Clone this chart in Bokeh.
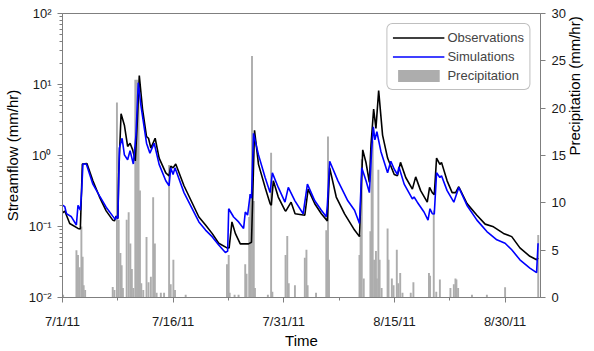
import math
from bokeh.plotting import figure
from bokeh.models import Range1d, LinearAxis, LinearScale, FixedTicker, Legend, LegendItem
from bokeh.embed import file_html
from bokeh.resources import INLINE

# Days since 7/1/2011
obs_day = [0.00, 0.31, 0.98, 2.10, 2.42, 2.69, 3.31, 4.12, 5.02, 5.92, 6.81, 7.04, 7.27, 7.51, 7.62, 7.94,
           8.39, 8.83, 9.16, 9.51, 9.87, 10.14, 10.41, 10.85, 11.39, 11.66, 11.98, 12.56, 13.10, 14.00,
           14.45, 14.67, 14.99, 15.35, 16.47, 18.49, 19.39, 20.28, 21.18, 22.30, 22.59, 22.97, 23.43,
           24.10, 25.22, 25.62, 26.03, 26.57, 27.47, 28.14, 28.31, 28.58, 29.25, 30.16, 30.27, 30.99,
           31.53, 32.85, 33.30, 34.20, 35.09, 35.90, 36.22, 37.11, 38.24, 39.59, 40.26, 40.70, 41.15,
           41.60, 41.82, 42.18, 42.49, 42.86, 43.39, 44.07, 44.97, 45.41, 45.82, 46.53, 47.43, 47.88,
           48.55, 49.45, 49.76, 50.13, 50.40, 50.71, 51.16, 51.38, 52.14, 52.82, 53.29, 53.72, 54.84,
           56.18, 57.30, 58.43, 59.78, 60.90, 62.01, 63.36, 64.27, 64.47]
obs_q = [0.155, 0.165, 0.110, 0.094, 0.092, 0.76, 0.77, 0.44, 0.26, 0.166, 0.123, 0.12, 0.14, 0.13, 0.54, 3.87,
         2.67, 1.34, 1.49, 1.20, 0.84, 3.0, 13.4, 4.5, 1.85, 1.75, 1.27, 1.75, 0.92, 0.57,
         0.515, 0.71, 0.67, 0.76, 0.375, 0.136, 0.105, 0.080, 0.058, 0.050, 0.050, 0.116, 0.080,
         0.057, 0.057, 0.060, 2.27, 0.75, 0.355, 0.21, 0.20, 0.44, 0.26, 0.169, 0.165, 0.22,
         0.151, 0.144, 0.336, 0.209, 0.151, 0.12, 0.67, 0.26, 0.151, 0.089, 0.072, 1.2, 0.79,
         0.42, 1.41, 4.5, 2.4, 8.2, 1.94, 0.92, 0.54, 0.52, 0.80, 0.49, 0.336, 0.50,
         0.32, 0.22, 0.355, 0.30, 0.28, 0.92, 0.75, 0.80, 0.44, 0.30, 0.30, 0.363, 0.21,
         0.144, 0.108, 0.099, 0.080, 0.072, 0.050, 0.038, 0.034, 0.036]

sim_day = [0.00, 0.31, 0.54, 1.21, 1.88, 2.10, 2.42, 2.60, 2.77, 3.23, 4.12, 5.02, 5.92, 6.81, 7.17, 7.31, 7.51,
           7.71, 8.08, 8.39, 8.83, 9.16, 9.60, 9.96, 10.27, 10.64, 11.39, 11.85, 12.43, 13.10, 14.00, 14.45,
           14.67, 14.99, 15.25, 16.47, 18.49, 19.39, 20.28, 21.18, 22.08, 22.39, 22.53, 23.20, 23.87, 24.55,
           24.78, 25.09, 25.45, 25.62, 25.89, 26.57, 27.47, 28.14, 28.45, 29.25, 30.16, 30.61, 31.51, 32.62,
           33.20, 34.20, 35.09, 35.76, 35.90, 36.22, 37.34, 38.68, 39.59, 40.26, 40.57, 41.15, 41.60, 41.91,
           42.14, 42.35, 42.62, 43.16, 44.07, 44.51, 44.97, 45.41, 45.61, 46.32, 47.43, 47.66, 48.10, 49.01,
           49.55, 49.82, 50.13, 50.40, 50.71, 51.16, 51.38, 52.14, 53.05, 53.72, 54.84, 56.18, 57.53, 58.88,
           60.00, 60.90, 62.01, 63.36, 64.27, 64.47]
sim_q = [0.20, 0.19, 0.152, 0.137, 0.105, 0.198, 0.17, 0.32, 0.76, 0.76, 0.395, 0.27, 0.187, 0.14, 0.125, 0.14, 0.13,
         1.27, 1.75, 1.02, 0.87, 1.17, 0.76, 1.94, 10.6, 5.0, 1.49, 1.08, 1.49, 0.75, 0.44, 0.375,
         0.67, 0.54, 0.67, 0.30, 0.116, 0.089, 0.072, 0.055, 0.043, 0.045, 0.178, 0.136, 0.116, 0.094,
         0.16, 0.145, 0.287, 0.25, 2.05, 1.02, 0.49, 0.30, 0.57, 0.355, 0.22, 0.355, 0.23, 0.151,
         0.395, 0.23, 0.169, 0.137, 0.198, 0.83, 0.44, 0.23, 0.169, 0.110, 0.67, 0.44, 0.30, 1.2,
         2.53, 1.66, 2.16, 1.14, 0.57, 0.83, 0.64, 0.54, 0.69, 0.395, 0.245, 0.26, 0.22, 0.16,
         0.123, 0.178, 0.151, 0.15, 0.57, 0.49, 0.52, 0.32, 0.22, 0.355, 0.198, 0.123, 0.085, 0.065,
         0.058, 0.047, 0.034, 0.026, 0.0224, 0.058]

precip_day = [0.08, 1.89, 2.10, 2.33, 2.56, 2.73, 2.87, 3.07, 6.81, 7.04, 7.38, 7.62, 7.85, 8.02, 8.19,
              8.70, 8.97, 9.20, 9.40, 9.60, 9.87, 10.10, 10.31, 10.50, 10.68, 10.95, 11.39, 11.66, 11.98,
              12.29, 12.52, 12.76, 13.33, 13.77, 14.45, 14.67, 15.03, 15.25, 16.70, 22.30, 22.53, 22.66,
              23.33, 23.87, 24.77, 24.95, 25.31, 25.45, 25.69, 25.93, 26.09, 27.84, 28.28, 28.45, 30.24,
              30.47, 30.67, 31.51, 32.85, 33.07, 33.23, 34.37, 35.76, 35.99, 36.13, 40.26, 40.41, 40.57,
              40.84, 41.74, 41.91, 42.05, 42.25, 42.49, 42.62, 42.82, 42.99, 43.26, 44.07, 44.20, 44.65,
              44.88, 45.32, 45.51, 45.78, 46.09, 47.21, 47.57, 49.68, 49.83, 50.33, 50.67, 51.16, 52.59,
              53.05, 53.27, 53.40, 53.63, 55.51, 57.53, 60.00, 64.49]
precip_mm = [0.3, 5.0, 4.5, 3.2, 7.5, 4.3, 1.3, 0.8, 1.1, 0.8, 20.6, 8.2, 4.7, 3.4, 1.0,
             8.2, 9.0, 5.7, 3.0, 1.0, 23.0, 23.0, 22.4, 11.3, 1.5, 0.8, 6.4, 1.6, 2.2,
             10.6, 5.7, 0.5, 0.5, 0.5, 14.0, 1.4, 4.0, 0.8, 0.3, 3.5, 4.5, 0.5,
             0.3, 0.3, 3.5, 2.5, 8.5, 10.9, 25.5, 10.2, 1.0, 0.3, 15.3, 0.6, 4.5,
             6.5, 1.5, 1.3, 4.2, 5.05, 1.3, 0.5, 7.1, 17.0, 4.0, 4.5, 6.6, 14.6,
             2.0, 7.0, 14.4, 16.5, 4.0, 4.9, 2.0, 13.5, 4.0, 1.0, 7.3, 4.0, 2.0,
             1.3, 5.05, 1.5, 2.6, 0.5, 0.5, 1.6, 2.6, 2.3, 9.2, 0.6, 1.9, 1.0,
             1.4, 2.0, 1.9, 1.0, 0.3, 0.3, 1.07, 6.6]

date_ticks = [0, 15, 30, 45, 60]
date_labels = ["7/1/11", "7/16/11", "7/31/11", "8/15/11", "8/30/11"]
flow_ticks = [0.01, 0.1, 1, 10, 100]
flow_labels = ["10\u207b\u00b2", "10\u207b\u00b9", "10\u2070", "10\u00b9", "10\u00b2"]
precip_ticks = [0, 5, 10, 15, 20, 25, 30]

FONT = "Liberation Sans"
AX = "#7f7f7f"

p = figure(width=594, height=351, output_backend="svg", toolbar_location=None,
           y_axis_type="log", x_range=Range1d(0, 64.8), y_range=Range1d(0.01, 100),
           min_border_left=62, min_border_right=50, min_border_top=13, min_border_bottom=49)
p.extra_y_ranges = {"precip": Range1d(0, 30)}
p.extra_y_scales = {"precip": LinearScale()}
p.xgrid.visible = False
p.ygrid.visible = False
p.outline_line_color = AX
p.background_fill_color = "white"
p.border_fill_color = "white"

bars = p.vbar(x=precip_day, top=precip_mm, bottom=0, width=0.26, y_range_name="precip",
              fill_color="#adadad", line_color=None)
obs = p.line(obs_day, obs_q, line_color="black", line_width=1.6)
sim = p.line(sim_day, sim_q, line_color="#0000ff", line_width=1.6)

minor_x = [7.5, 22.5, 37.5, 52.5]
p.xaxis.ticker = FixedTicker(ticks=date_ticks, minor_ticks=minor_x)
p.xaxis.major_label_overrides = {t: l for t, l in zip(date_ticks, date_labels)}
p.xaxis.axis_label = "Time"

minor_y = [m * 10.0 ** e for e in (-2, -1, 0, 1) for m in range(2, 10)]
p.yaxis.ticker = FixedTicker(ticks=flow_ticks, minor_ticks=minor_y)
p.yaxis.major_label_overrides = {t: l for t, l in zip(flow_ticks, flow_labels)}
p.yaxis.axis_label = "Streamflow (mm/hr)"

rax = LinearAxis(y_range_name="precip", axis_label="Precipitation (mm/hr)",
                 ticker=FixedTicker(ticks=precip_ticks))
try:
    rax.axis_label_orientation = math.pi / 2
except Exception:
    pass
p.add_layout(rax, "right")

for ax in [p.xaxis[0], p.yaxis[0], rax]:
    ax.axis_line_color = AX
    ax.major_tick_line_color = AX
    ax.minor_tick_line_color = AX
    ax.major_tick_out = 5
    ax.major_tick_in = 0
    ax.minor_tick_out = 3
    ax.minor_tick_in = 0
    ax.major_label_text_font = FONT
    ax.major_label_text_font_size = "13px"
    ax.major_label_text_color = "#1a1a1a"
    ax.axis_label_text_font = FONT
    ax.axis_label_text_font_size = "15px"
    ax.axis_label_text_font_style = "normal"
    ax.axis_label_text_color = "black"
rax.minor_tick_line_color = None
p.xaxis.major_label_standoff = 11
p.xaxis.axis_label_standoff = 0
p.yaxis.major_label_standoff = 6
p.yaxis.axis_label_standoff = 5
rax.major_label_standoff = 6
rax.axis_label_standoff = 6

legend = Legend(items=[LegendItem(label="Observations", renderers=[obs]),
                       LegendItem(label="Simulations", renderers=[sim]),
                       LegendItem(label="Precipitation", renderers=[bars])],
                location="top_right")
legend.margin = 10
legend.padding = 5
legend.spacing = 2
legend.glyph_width = 52
legend.glyph_height = 15
legend.label_height = 17
legend.label_standoff = 3
legend.label_text_font = FONT
legend.label_text_font_size = "13px"
legend.border_line_color = AX
legend.border_line_width = 1
legend.background_fill_alpha = 1
try:
    legend.border_radius = 6
except Exception:
    pass
p.add_layout(legend)

open("out.html", "w").write(file_html(p, INLINE))
